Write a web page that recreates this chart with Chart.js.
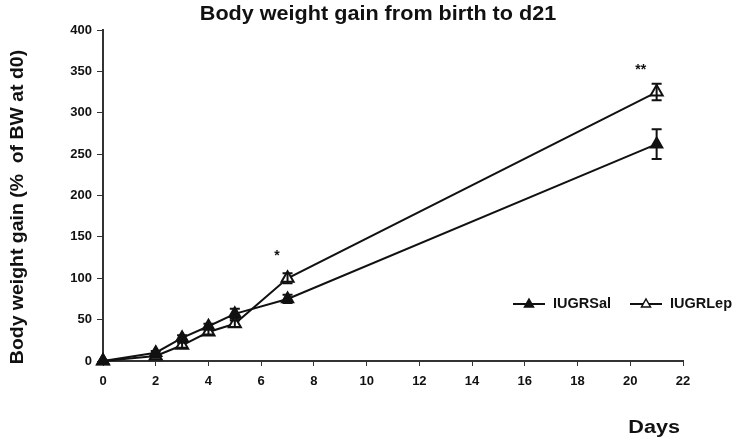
<!DOCTYPE html>
<html>
<head>
<meta charset="utf-8">
<script src="https://cdn.jsdelivr.net/npm/chart.js@4/dist/chart.umd.min.js"></script>
<style>
  html, body { margin: 0; padding: 0; background: #fff; }
</style>
</head>
<body>
<canvas id="chart" width="737" height="444"></canvas>
<script>
// values
const days = [0, 2, 3, 4, 5, 7, 21];
const salMean = [0, 10, 28, 42, 57, 75, 262];
const salErr = [0, 2, 3, 3, 6, 5, 18];
const lepMean = [0, 6, 19, 35, 45, 100, 325];
const lepErr = [0, 2, 3, 3, 4, 6, 10];
const starDays = [6.6, 20.4];
const starValues = [127, 352];
const starTexts = ['*', '**'];
const titleText = 'Body weight gain from birth to d21';
const yTitle = 'Body weight gain (%  of BW at d0)';
const xTitle = 'Days';

const FONT = '"Liberation Sans", Arial, sans-serif';
const INK = '#111';

function toPoints(xs, ys) {
    return xs.map((x, i) => ({ x: x, y: ys[i] }));
}

const errorBars = {
    id: 'errorBars',
    afterDatasetsDraw(chart) {
        const { ctx, scales: { x, y } } = chart;
        const errs = [salErr, lepErr];
        ctx.save();
        ctx.strokeStyle = INK;
        ctx.lineWidth = 2;
        chart.data.datasets.forEach((ds, k) => {
            ds.data.forEach((p, i) => {
                const e = errs[k][i];
                if (!e) return;
                const px = x.getPixelForValue(p.x);
                const top = y.getPixelForValue(p.y + e);
                const bot = y.getPixelForValue(p.y - e);
                ctx.beginPath();
                ctx.moveTo(px, top); ctx.lineTo(px, bot);
                ctx.moveTo(px - 5, top); ctx.lineTo(px + 5, top);
                ctx.moveTo(px - 5, bot); ctx.lineTo(px + 5, bot);
                ctx.stroke();
            });
        });
        ctx.restore();
    }
};

const extras = {
    id: 'extras',
    afterDraw(chart) {
        const { ctx, scales: { x, y } } = chart;
        ctx.save();
        ctx.fillStyle = INK;
        ctx.textAlign = 'center';
        ctx.textBaseline = 'middle';
        // title (slightly stretched like the original)
        ctx.save();
        ctx.translate(378, 14);
        ctx.scale(1.08, 1);
        ctx.font = 'bold 20px ' + FONT;
        ctx.fillText(titleText, 0, 0);
        ctx.restore();
        // y axis title
        ctx.save();
        ctx.translate(18, 207);
        ctx.rotate(-Math.PI / 2);
        ctx.scale(1.08, 1);
        ctx.font = 'bold 18px ' + FONT;
        ctx.fillText(yTitle, 0, 0);
        ctx.restore();
        // x axis title
        ctx.save();
        ctx.translate(680, 428);
        ctx.scale(1.2, 1);
        ctx.textAlign = 'right';
        ctx.font = 'bold 18px ' + FONT;
        ctx.fillText(xTitle, 0, 0);
        ctx.restore();
        // significance stars
        ctx.font = 'bold 14px ' + FONT;
        starTexts.forEach((t, i) => {
            ctx.fillText(t, x.getPixelForValue(starDays[i]), y.getPixelForValue(starValues[i]));
        });
        // legend
        ctx.font = 'bold 14.5px ' + FONT;
        ctx.textAlign = 'left';
        const items = [
            { x: 513, fill: INK, label: chart.data.datasets[0].label },
            { x: 630, fill: '#fff', label: chart.data.datasets[1].label }
        ];
        const ly = 304;
        items.forEach(it => {
            ctx.strokeStyle = INK;
            ctx.lineWidth = 2;
            ctx.beginPath();
            ctx.moveTo(it.x, ly); ctx.lineTo(it.x + 32, ly);
            ctx.stroke();
            const cx = it.x + 16;
            ctx.beginPath();
            ctx.moveTo(cx, ly - 5); ctx.lineTo(cx + 4.5, ly + 3); ctx.lineTo(cx - 4.5, ly + 3);
            ctx.closePath();
            ctx.fillStyle = it.fill;
            ctx.fill();
            ctx.lineWidth = 1.5;
            ctx.stroke();
            ctx.fillStyle = INK;
            ctx.fillText(it.label, it.x + 40, ly);
        });
        ctx.restore();
    }
};

new Chart(document.getElementById('chart'), {
    type: 'line',
    data: {
        datasets: [
            {
                label: 'IUGRSal', data: toPoints(days, salMean),
                borderColor: INK, borderWidth: 2, backgroundColor: INK,
                pointStyle: 'triangle', pointRadius: 7, pointBorderWidth: 1.5,
                pointBorderColor: INK, pointBackgroundColor: INK, clip: false
            },
            {
                label: 'IUGRLep', data: toPoints(days, lepMean),
                borderColor: INK, borderWidth: 2, backgroundColor: '#fff',
                pointStyle: 'triangle', pointRadius: 7, pointBorderWidth: 2,
                pointBorderColor: INK, pointBackgroundColor: '#fff', clip: false
            }
        ]
    },
    options: {
        responsive: false,
        animation: false,
        layout: { padding: { top: 30, left: 6, right: 54, bottom: 4 } },
        plugins: { legend: { display: false }, title: { display: false }, tooltip: { enabled: false } },
        scales: {
            x: {
                type: 'linear', min: 0, max: 22,
                ticks: { stepSize: 2, color: INK, font: { family: FONT, size: 13, weight: 'bold' }, padding: 8 },
                grid: { drawOnChartArea: false, drawTicks: true, tickLength: 5, color: '#333' },
                border: { color: '#333', width: 2 },
                title: { display: false },
                afterFit(scale) { scale.height = 79; }
            },
            y: {
                min: 0, max: 400,
                ticks: { stepSize: 50, color: INK, font: { family: FONT, size: 13, weight: 'bold' }, padding: 5 },
                grid: { drawOnChartArea: false, drawTicks: true, tickLength: 6, color: '#333' },
                border: { color: '#333', width: 2 },
                title: { display: false },
                afterFit(scale) { scale.width = 97; }
            }
        }
    },
    plugins: [errorBars, extras]
});
</script>
</body>
</html>
